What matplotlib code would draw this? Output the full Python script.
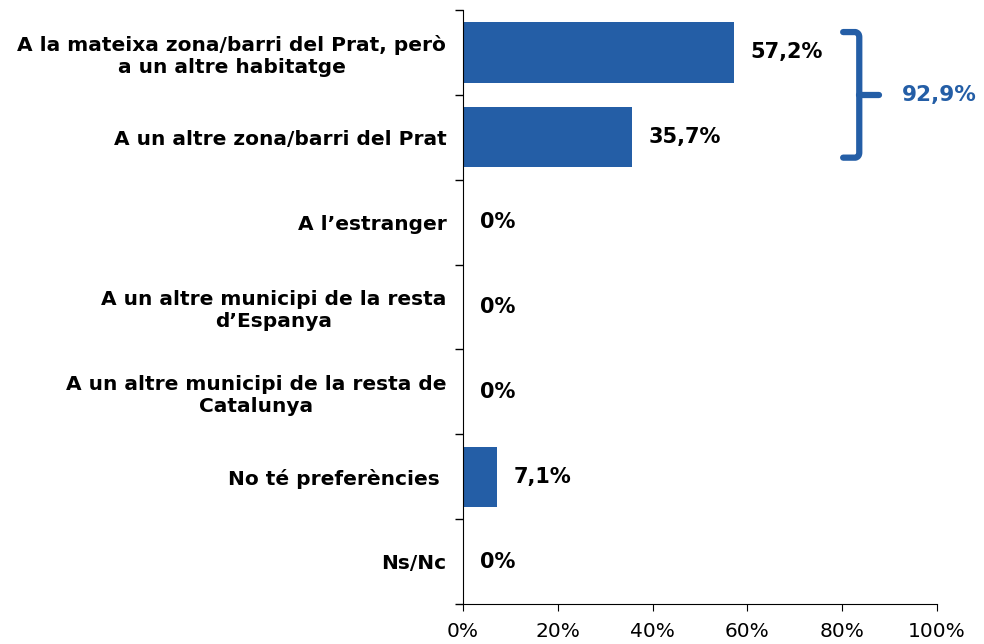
import matplotlib.pyplot as plt
from matplotlib.path import Path
from matplotlib.patches import PathPatch

categories = [
    'A la mateixa zona/barri del Prat, però\na un altre habitatge',
    'A un altre zona/barri del Prat',
    'A l\u2019estranger',
    'A un altre municipi de la resta\nd\u2019Espanya',
    'A un altre municipi de la resta de\nCatalunya',
    'No té preferències ',
    'Ns/Nc',
]
values = [57.2, 35.7, 0, 0, 0, 7.1, 0]
value_labels = ['57,2%', '35,7%', '0%', '0%', '0%', '7,1%', '0%']
group_label = '92,9%'
xticks = [0, 20, 40, 60, 80, 100]

blue = '#245EA6'

fig = plt.figure(figsize=(9.84, 6.44), dpi=100)
ax = fig.add_axes([463/984, 40/644, 474/984, 594/644])

pos = list(range(len(categories)))
ax.barh(pos, values, height=0.71, color=blue)
ax.set_ylim(len(categories) - 0.5, -0.5)
ax.set_xlim(0, 100)

for p, v, lab in zip(pos, values, value_labels):
    ax.annotate(lab, (v, p), xytext=(12, 0), textcoords='offset points',
                ha='left', va='center', fontsize=15, fontweight='bold', color='black')

# y axis: labels at centers, tick marks between categories
ax.set_yticks(pos)
ax.set_yticklabels(categories, fontsize=14.5, fontweight='bold', multialignment='center')
ax.set_yticks([p - 0.5 for p in pos] + [len(pos) - 0.5], minor=True)
ax.tick_params(axis='y', which='major', length=0, pad=12)
ax.tick_params(axis='y', which='minor', length=6, width=1, direction='out')

ax.set_xticks(xticks)
ax.set_xticklabels([f'{x}%' for x in xticks], fontsize=14.5)
ax.tick_params(axis='x', length=5, direction='out', pad=8)

for s in ['top', 'right']:
    ax.spines[s].set_visible(False)

# bracket around the first two bars
x0, x1, xt = 80.2, 83.6, 87.8
y0, y1, ym = -0.24, 1.24, 0.5
r = 0.06
verts = [(x0, y0), (x1 - 0.8, y0), (x1, y0 + 0.01), (x1, y0 + r),
         (x1, y1 - r), (x1, y1 - 0.01), (x1 - 0.8, y1), (x0, y1)]
codes = [Path.MOVETO, Path.LINETO, Path.CURVE3, Path.CURVE3,
         Path.LINETO, Path.CURVE3, Path.CURVE3, Path.LINETO]
ax.add_patch(PathPatch(Path(verts, codes), fill=False, edgecolor=blue, lw=4.5,
                       capstyle='round', joinstyle='round', clip_on=False))
ax.plot([x1, xt], [ym, ym], color=blue, lw=4.5, solid_capstyle='round', clip_on=False)
ax.text(92.6, ym, group_label, ha='left', va='center', fontsize=15.5,
        fontweight='bold', color=blue, clip_on=False)

fig.savefig('out.png', dpi=100)
